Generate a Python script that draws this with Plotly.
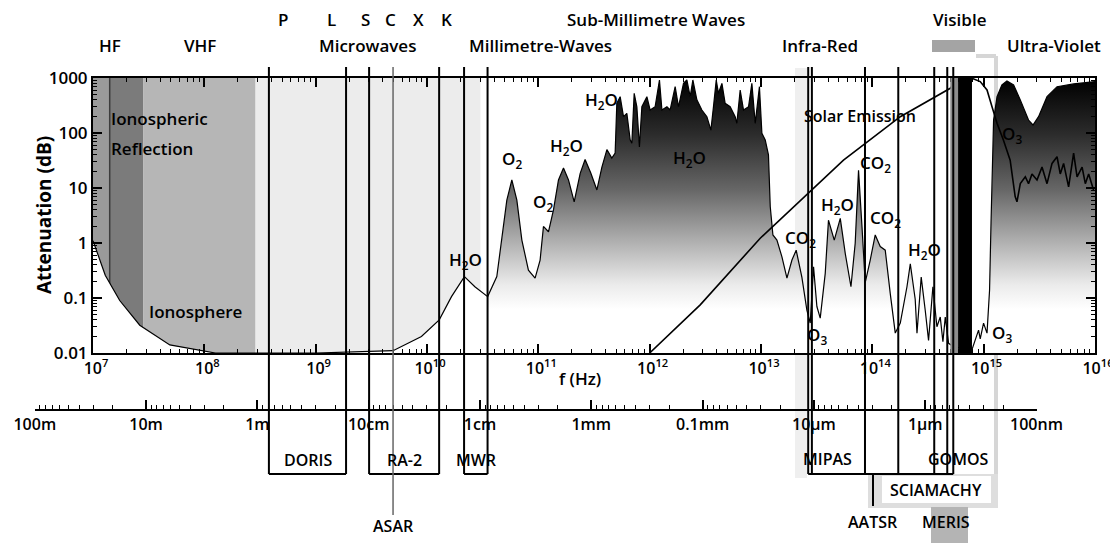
import plotly.graph_objects as go

# page body has an 8px margin: the figure is sized so that its right/bottom edge meets the window
OFF = 8
W, H = 1118 - OFF, 543 - OFF

# ---------------- data (log10 of frequency in Hz, attenuation in dB) ----------------
iono_logf = [7.00, 7.11, 7.24, 7.42, 7.69, 7.96, 8.10, 9.00, 9.695, 9.95, 10.11, 10.22, 10.336, 10.43, 10.545]
iono_db = [1.1, 0.26, 0.09, 0.032, 0.014, 0.011, 0.010, 0.010, 0.011, 0.020, 0.040, 0.106, 0.245, 0.16, 0.106]

atm_logf = [10.545, 10.627, 10.672, 10.717, 10.762, 10.807, 10.852, 10.911, 10.971, 11.016,
            11.046, 11.091, 11.136, 11.181, 11.226, 11.271, 11.322, 11.376, 11.420, 11.472,
            11.526, 11.571, 11.616, 11.660, 11.690, 11.705, 11.735, 11.765, 11.795, 11.825,
            11.840, 11.861, 11.885, 11.908, 11.930, 11.975, 12.004, 12.049, 12.088, 12.110,
            12.155, 12.184, 12.229, 12.259, 12.304, 12.334, 12.364, 12.388, 12.424, 12.469,
            12.514, 12.550, 12.573, 12.598, 12.618, 12.649, 12.678, 12.723, 12.768, 12.783,
            12.813, 12.843, 12.888, 12.918, 12.948, 12.986, 13.008, 13.038, 13.067, 13.083,
            13.107, 13.143, 13.188, 13.233, 13.278, 13.316, 13.367, 13.412, 13.442, 13.472,
            13.502, 13.532, 13.577, 13.606, 13.658, 13.712, 13.757, 13.808, 13.846, 13.876,
            13.907, 13.936, 13.981, 14.026, 14.071, 14.116, 14.161, 14.206, 14.251, 14.311,
            14.341, 14.385, 14.401, 14.439, 14.475, 14.505, 14.544, 14.580, 14.610, 14.634,
            14.655, 14.685, 14.730, 14.835, 14.898, 14.925, 14.954, 14.969, 14.999, 15.030,
            15.053, 15.066, 15.075, 15.089, 15.120, 15.164, 15.209, 15.269, 15.329, 15.403,
            15.443, 15.493, 15.569, 15.659, 15.808, 16.000]
atm_db = [0.106, 0.245, 1.13, 6.0, 14, 6.0, 1.13, 0.32, 0.23, 0.49,
          2.0, 1.6, 4.0, 14, 23, 14, 5.6, 18.5, 33, 18.5,
          9.2, 24, 50, 35, 43, 346, 457, 198, 228, 75,
          65, 527, 300, 56, 300, 457, 262, 300, 920, 262,
          300, 262, 695, 300, 800, 920, 457, 920, 400, 262,
          198, 113, 300, 920, 527, 800, 346, 300, 198, 150,
          605, 262, 300, 800, 150, 695, 99, 75, 40, 4.6,
          1.4, 1.13, 0.56, 0.23, 0.49, 0.74, 0.24, 0.06, 0.035, 0.37,
          0.07, 0.043, 0.28, 2.6, 1.13, 2.8, 0.64, 0.16, 0.99, 21,
          2.0, 0.19, 0.49, 1.4, 0.86, 0.74, 0.12, 0.023, 0.035, 0.16,
          0.42, 0.095, 0.023, 0.24, 0.06, 0.017, 0.16, 0.03, 0.045, 0.016,
          0.045, 0.015, 0.013, 0.012, 0.012, 0.018, 0.026, 0.018, 0.035, 0.023,
          0.14, 2.3, 9.2, 172, 457, 746, 880, 746, 400, 172,
          140, 198, 457, 695, 780, 860]

solar_logf = [12.0, 12.454, 12.993, 13.442, 13.741, 14.251, 14.700, 14.775, 14.894, 14.969,
              15.030, 15.075, 15.120, 15.178, 15.238, 15.283, 15.299, 15.329, 15.374, 15.403,
              15.434, 15.479, 15.524, 15.569, 15.614, 15.659, 15.688, 15.718, 15.763, 15.808,
              15.839, 15.884, 15.913, 15.943, 15.987]
solar_db = [0.01, 0.075, 1.22, 8.6, 32, 198, 650, 990, 990, 860,
            605, 300, 150, 74, 32, 7.0, 5.6, 12, 16, 12,
            18, 14, 24, 12, 28, 37, 18, 28, 10.5, 43,
            16, 24, 12, 18, 9.2]

freq_ticks = [1e7, 1e8, 1e9, 1e10, 1e11, 1e12, 1e13, 1e14, 1e15, 1e16]
freq_ticktext = ["10<sup>%d</sup>" % e for e in range(7, 17)]
db_ticks = [0.01, 0.1, 1, 10, 100, 1000]
db_ticktext = ["0.01", "0.1", "1", "10", "100", "1000"]
wl_ticks = [100, 10, 1, 0.1, 0.01, 1e-3, 1e-4, 1e-5, 1e-6, 1e-7]
wl_ticktext = ["100m", "10m", "1m", "10cm", "1cm", "1mm", "0.1mm", "10µm", "1µm", "100nm"]

# spectral regions (log10 Hz edges) shaded above the curve
region_edges = [7.0, 7.15, 7.45, 8.46, 10.48]
region_colors = ["#9a9a9a", "#7b7b7b", "#b6b6b6", "#ececec"]

# instrument bands (log10 Hz)
doris_band = [8.58, 9.273]
ra2_band = [9.48, 10.109]
mwr_band = [10.333, 10.544]
asar_line = 9.695
ir_lines = [13.424, 13.457, 13.934, 14.233, 14.556, 14.673, 14.727]
aatsr_line = 14.006
visible_gray = [14.70, 14.77]
visible_black = [14.77, 14.895]

# ---------------- geometry helpers (pixel positions in the 1118x543 window) ----------------
PLOT_L, PLOT_R, PLOT_T, PLOT_B = 93, 1095, 78, 353

def PX(p):
    return (p - OFF) / W

def PY(p):
    return (543 - p) / H

def XP(logf):
    return PX(PLOT_L + (logf - 7) / 9 * (PLOT_R - PLOT_L))

to_hz = lambda arr: [10 ** v for v in arr]
iono_f = to_hz(iono_logf)
atm_f = to_hz(atm_logf)
solar_f = to_hz(solar_logf)

# minor tick positions (2..9 within each decade)
minor_freq = [m * 10 ** e for e in range(7, 16) for m in range(2, 10)]
minor_db = [m * 10 ** e for e in range(-2, 3) for m in range(2, 10)]
minor_wl = [m * 10 ** e for e in range(-7, 2) for m in range(2, 10)]

FONT = "Open Sans"
fig = go.Figure()

fig.add_trace(go.Scatter(x=iono_f + [iono_f[-1], iono_f[0]], y=iono_db + [0.0099, 0.0099],
                         fill="toself", fillcolor="white", mode="none", hoverinfo="skip",
                         showlegend=False))
fig.add_trace(go.Scatter(x=atm_f + [atm_f[-1], atm_f[0]], y=atm_db + [0.01, 0.01],
                         fill="toself", mode="none", hoverinfo="skip", showlegend=False,
                         fillgradient=dict(type="vertical",
                                           colorscale=[[0, "#ffffff"], [0.16, "#ffffff"],
                                                       [0.25, "#ebebeb"], [0.42, "#ababab"],
                                                       [0.6, "#666666"], [0.8, "#2c2c2c"],
                                                       [1, "#000000"]])))
fig.add_trace(go.Scatter(x=iono_f + atm_f, y=iono_db + atm_db, mode="lines",
                         line=dict(color="black", width=1.2), hoverinfo="skip", showlegend=False))
fig.add_trace(go.Scatter(x=solar_f, y=solar_db, mode="lines",
                         line=dict(color="black", width=1.6), hoverinfo="skip", showlegend=False))
fig.add_trace(go.Scatter(x=[wl_ticks[0], wl_ticks[-1]], y=[0.5, 0.5], xaxis="x2", yaxis="y2",
                         mode="markers", marker=dict(opacity=0), hoverinfo="skip", showlegend=False))

shapes = []
def rect(x0, x1, y0, y1, color, layer="below"):
    shapes.append(dict(type="rect", xref="paper", yref="paper", x0=x0, x1=x1, y0=y0, y1=y1,
                       fillcolor=color, line=dict(width=0), layer=layer))
def line(x0, x1, y0, y1, color="black", width=2, layer="above"):
    shapes.append(dict(type="line", xref="paper", yref="paper", x0=x0, x1=x1, y0=y0, y1=y1,
                       line=dict(color=color, width=width), layer=layer))

for a, b, col in zip(region_edges[:-1], region_edges[1:], region_colors):
    rect(XP(a), XP(b), PY(PLOT_B), PY(PLOT_T), col)
line(XP(7.15), XP(7.15), PY(PLOT_B), PY(PLOT_T), "#3c3c3c", 1.5, "below")
# faint instrument shadows
rect(PX(795), PX(807), PY(478), PY(68), "#efefef")
line(PX(996), PX(996), PY(507), PY(56), "#d6d6d6", 4, "below")
line(PX(976), PX(996), PY(56), PY(56), "#d6d6d6", 4, "below")
rect(PX(868), PX(998), PY(508), PY(474), "#dedede")
rect(PX(882), PX(991), PY(503), PY(476), "#ffffff")
rect(PX(931), PX(968), PY(543), PY(507), "#b4b4b4")
rect(PX(932), PX(975), PY(52), PY(40), "#a4a4a4")
# visible bands
rect(XP(visible_gray[0]), XP(visible_gray[1]), PY(PLOT_B), PY(PLOT_T), "#8c8c8c", "above")
rect(XP(visible_black[0]), XP(visible_black[1]), PY(PLOT_B), PY(PLOT_T), "#000000", "above")

TOP, BOT = PY(67), PY(474)
for band in (doris_band, ra2_band, mwr_band):
    line(XP(band[0]), XP(band[0]), BOT, TOP)
    line(XP(band[1]), XP(band[1]), BOT, TOP)
    line(XP(band[0]), XP(band[1]), BOT, BOT)
line(XP(asar_line), XP(asar_line), PY(515), TOP, "#666666", 1.5)
for x in ir_lines:
    line(XP(x), XP(x), BOT, TOP)
line(XP(ir_lines[0]), XP(ir_lines[-1]), BOT, BOT)
line(XP(aatsr_line), XP(aatsr_line), PY(506), BOT)

ann = []
def text(x, y, s, size=16, xanchor="center", yanchor="middle", **kw):
    ann.append(dict(x=PX(x), y=PY(y), xref="paper", yref="paper", text=s, showarrow=False,
                    xanchor=xanchor, yanchor=yanchor,
                    font=dict(family=FONT, size=size, color="black", weight=600), **kw))

for s, x in [("P", 283), ("L", 331), ("S", 365), ("C", 390), ("X", 418), ("K", 446)]:
    text(x, 19, s, 17)
text(656, 19, "Sub-Millimetre Waves", 17)
text(959, 19, "Visible", 17)
for s, x in [("HF", 110), ("VHF", 200), ("Microwaves", 367), ("Millimetre-Waves", 540),
             ("Infra-Red", 820), ("Ultra-Violet", 1054)]:
    text(x, 46, s, 17)
text(109, 118, "Ionospheric", 17, xanchor="left")
text(109, 148, "Reflection", 17, xanchor="left")
text(195, 312, "Ionosphere", 17)
for s, x, y in [("H<sub>2</sub>O", 465, 260), ("O<sub>2</sub>", 512, 160), ("O<sub>2</sub>", 543, 202),
                ("H<sub>2</sub>O", 566, 146), ("H<sub>2</sub>O", 601, 101), ("H<sub>2</sub>O", 689, 158),
                ("CO<sub>2</sub>", 800, 238), ("H<sub>2</sub>O", 837, 205), ("CO<sub>2</sub>", 875, 163),
                ("CO<sub>2</sub>", 885, 218), ("H<sub>2</sub>O", 924, 250), ("O<sub>3</sub>", 817, 335),
                ("O<sub>3</sub>", 1002, 333), ("O<sub>3</sub>", 1012, 135)]:
    text(x, y, s, 17)
text(860, 116, "Solar Emission", 16)
text(580, 378, "f (Hz)", 17)
text(44, 215, "<b>Attenuation (dB)</b>", 19, textangle=-90)
for s, x, y in [("DORIS", 308, 460), ("RA-2", 404, 460), ("MWR", 476, 460), ("ASAR", 393, 526),
                ("MIPAS", 827, 459), ("GOMOS", 958, 459), ("SCIAMACHY", 936, 490),
                ("AATSR", 873, 522), ("MERIS", 946, 522)]:
    text(x, y, s, 16)

axis_common = dict(showgrid=False, zeroline=False, showline=True, linecolor="black", linewidth=2,
                   ticks="inside", ticklen=9, tickwidth=1.5, tickcolor="black", automargin=False)
def minor(vals):
    return dict(tickmode="array", tickvals=vals, ticks="inside", ticklen=4, tickwidth=1,
                tickcolor="black", showgrid=False)
tickfont_main = dict(family=FONT, size=17, color="black", weight=600)

fig.update_layout(
    template="none",
    width=W, height=H, margin=dict(l=0, r=0, t=0, b=0, pad=0),
    paper_bgcolor="white", plot_bgcolor="white", showlegend=False,
    font=dict(family=FONT, color="black"),
    xaxis=dict(type="log", range=[7, 16], domain=[PX(PLOT_L), PX(PLOT_R)], anchor="y", mirror="ticks",
               tickmode="array", tickvals=freq_ticks, ticktext=freq_ticktext,
               tickfont=dict(family=FONT, size=16, color="black", weight=600),
               ticklabelshift=3, ticklabeloverflow="allow", minor=minor(minor_freq), **axis_common),
    yaxis=dict(type="log", range=[-2, 3], domain=[PY(PLOT_B), PY(PLOT_T)], anchor="x", mirror="ticks",
               tickmode="array", tickvals=db_ticks, ticktext=db_ticktext, tickfont=tickfont_main,
               minor=minor(minor_db), **axis_common),
    xaxis2=dict(type="log", range=[2, -7], domain=[PX(34.8), PX(1036.5)], anchor="y2",
                tickmode="array", tickvals=wl_ticks, ticktext=wl_ticktext,
                tickfont=dict(family=FONT, size=16, color="black", weight=600),
                minor=minor(minor_wl), **axis_common),
    yaxis2=dict(domain=[PY(409), PY(407)], anchor="x2", visible=False, range=[0, 1],
                automargin=False),
    shapes=shapes, annotations=ann,
)

fig.write_html("out.html")
